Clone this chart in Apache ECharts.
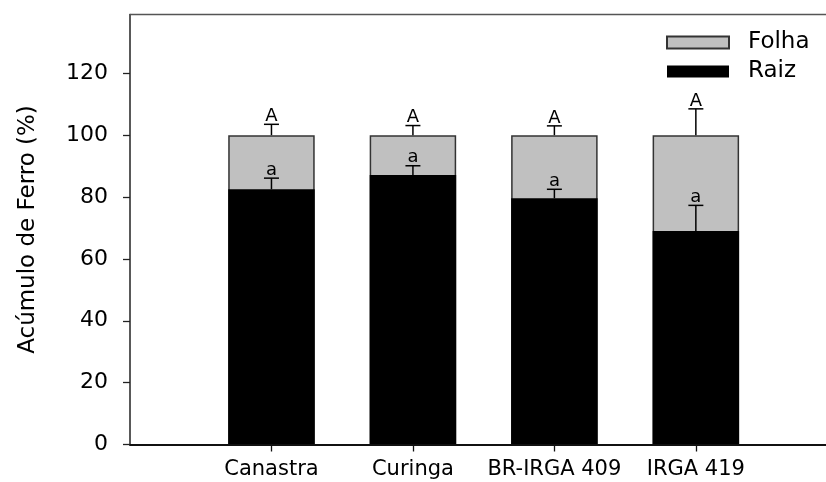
<!DOCTYPE html>
<html>
<head>
<meta charset="utf-8">
<script src="https://cdn.jsdelivr.net/npm/echarts@6/dist/echarts.min.js"></script>
<style>html,body{margin:0;padding:0;background:#fff}#c{width:826px;height:482px}</style>
</head>
<body>
<div id="c"></div>
<script>
const categories = ['Canastra', 'Curinga', 'BR-IRGA 409', 'IRGA 419'];
const raiz = [82.5, 87.1, 79.6, 69.0];
const folha = [17.5, 12.9, 20.4, 31.0];
const raizErr = [3.6, 3.0, 2.9, 8.3];
const folhaErr = [3.5, 3.1, 3.0, 8.5];
const raizLetters = ['a', 'a', 'a', 'a'];
const folhaLetters = ['A', 'A', 'A', 'A'];
const yTicks = [0, 20, 40, 60, 80, 100, 120];
const xPositions = [1, 2, 3, 4];

const FONT = 'DejaVu Sans';
const chart = echarts.init(document.getElementById('c'), null, {renderer: 'canvas'});

function errItem(letters) {
  return function (params, api) {
    const x = api.value(0), base = api.value(1), top = api.value(2);
    const p0 = api.coord([x, base]);
    const p1 = api.coord([x, top]);
    const letter = letters[params.dataIndex];
    return {
      type: 'group',
      children: [
        {type: 'line', shape: {x1: p0[0], y1: p0[1], x2: p1[0], y2: p1[1]}, style: {stroke: '#000', lineWidth: 1.5}},
        {type: 'line', shape: {x1: p1[0] - 7.5, y1: p1[1], x2: p1[0] + 7.5, y2: p1[1]}, style: {stroke: '#000', lineWidth: 1.5}},
        {type: 'text', style: {text: letter, x: p1[0], y: p1[1] + 1, align: 'center', verticalAlign: 'bottom', fontSize: 18, fontFamily: FONT, fill: '#000'}}
      ]
    };
  };
}

// Folha sits on top of Raiz: draw total (raiz + folha) in grey behind the black Raiz bar
const raizData = raiz.map((v, i) => [xPositions[i], v]);
const folhaTopData = folha.map((v, i) => [xPositions[i], raiz[i] + v]);
const raizErrData = raiz.map((v, i) => [xPositions[i], v, v + raizErr[i]]);
const folhaErrData = raiz.map((v, i) => [xPositions[i], v + folha[i], v + folha[i] + folhaErr[i]]);

chart.setOption({
  animation: false,
  backgroundColor: '#fff',
  grid: {left: 130, right: 0, top: 14.5, bottom: 37.5},
  legend: {
    orient: 'vertical', left: 666, top: 31, padding: 0, itemGap: 6,
    itemWidth: 62, itemHeight: 12, icon: 'rect',
    data: ['Folha', 'Raiz'],
    textStyle: {fontFamily: FONT, fontSize: 23, color: '#000', padding: [0, 0, 0, 14]}
  },
  xAxis: [{
    type: 'value', min: 0, max: 4.92,
    splitLine: {show: false},
    axisLine: {show: true, lineStyle: {color: '#111', width: 2}},
    axisTick: {show: true, inside: false, length: 7, customValues: xPositions, lineStyle: {color: '#111', width: 1.3}},
    axisLabel: {customValues: xPositions, margin: 15, fontFamily: FONT, fontSize: 21, color: '#000',
      formatter: v => categories[xPositions.indexOf(v)] || ''}
  }, {
    type: 'value', position: 'top', min: 0, max: 4.92,
    splitLine: {show: false},
    axisLine: {show: true, onZero: false, lineStyle: {color: '#555', width: 1.3}},
    axisTick: {show: false}, axisLabel: {show: false}
  }],
  yAxis: {
    type: 'value', min: 0, max: 139, interval: 20,
    name: 'Acúmulo de Ferro (%)', nameLocation: 'middle', nameGap: 90,
    nameTextStyle: {fontFamily: FONT, fontSize: 23, color: '#000'},
    splitLine: {show: false},
    axisLine: {show: true, lineStyle: {color: '#222', width: 1.5}},
    axisTick: {show: true, inside: false, length: 7, customValues: yTicks, lineStyle: {color: '#222', width: 1.3}},
    axisLabel: {customValues: yTicks, margin: 22, fontFamily: FONT, fontSize: 22, color: '#000'}
  },
  series: [
    {name: 'Folha', type: 'bar', barWidth: 86.5, barGap: '-100%', data: folhaTopData, z: 2,
      itemStyle: {color: '#c0c0c0', borderColor: '#333', borderWidth: 1.5}},
    {name: 'Raiz', type: 'bar', barWidth: 86.5, barGap: '-100%', data: raizData, z: 3,
      itemStyle: {color: '#000', borderColor: '#000', borderWidth: 0}},
    {name: 'errRaiz', type: 'custom', renderItem: errItem(raizLetters), data: raizErrData, z: 10,
      encode: {x: 0, y: [1, 2]}},
    {name: 'errFolha', type: 'custom', renderItem: errItem(folhaLetters), data: folhaErrData, z: 10,
      encode: {x: 0, y: [1, 2]}}
  ]
});
</script>
</body>
</html>
